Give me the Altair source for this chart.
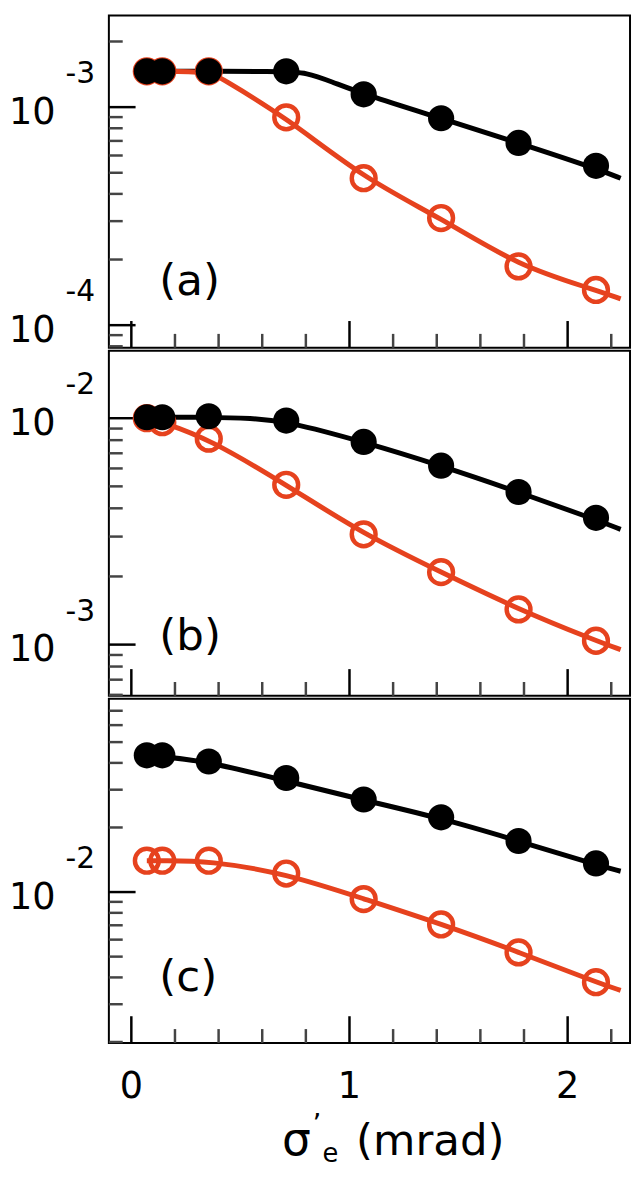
import altair as alt
import pandas as pd

RED = "#E6421E"
FONT = "DejaVu Sans"

# x positions of the measurements (mrad)
x_pts = [0.071, 0.142, 0.355, 0.71, 1.065, 1.42, 1.775, 2.13]

black_a = [1.46e-3, 1.46e-3, 1.46e-3, 1.46e-3, 1.145e-3, 8.89e-4, 6.85e-4, 5.38e-4]
red_a = [1.46e-3, 1.46e-3, 1.46e-3, 8.98e-4, 4.72e-4, 3.10e-4, 1.86e-4, 1.45e-4]
black_b = [1.01e-2, 1.01e-2, 1.02e-2, 9.76e-3, 7.86e-3, 6.17e-3, 4.72e-3, 3.63e-3]
red_b = [1.0e-2, 9.6e-3, 8.12e-3, 5.08e-3, 3.07e-3, 2.09e-3, 1.43e-3, 1.04e-3]
black_c = [4.34e-2, 4.34e-2, 4.06e-2, 3.40e-2, 2.70e-2, 2.23e-2, 1.73e-2, 1.36e-2]
red_c = [1.40e-2, 1.40e-2, 1.40e-2, 1.22e-2, 9.27e-3, 7.06e-3, 5.23e-3, 3.80e-3]

# fitted curves
fit_x = [0.071, 0.142, 0.355, 0.71, 1.065, 1.42, 1.775, 2.13, 2.243]
fit_black_a_x = [0.071, 0.71, 0.80, 0.914, 1.065, 1.42, 1.775, 2.13, 2.243]
fit_black_a = [1.46e-3, 1.46e-3, 1.44e-3, 1.315e-3, 1.145e-3, 8.89e-4, 6.85e-4, 5.23e-4, 4.72e-4]
fit_red_a_x = [0.071, 0.355, 0.415, 0.71, 1.065, 1.42, 1.775, 2.13, 2.243]
fit_red_a = [1.46e-3, 1.46e-3, 1.35e-3, 8.98e-4, 4.72e-4, 3.10e-4, 1.86e-4, 1.45e-4, 1.32e-4]
fit_black_b_x = [0.071, 0.355, 0.55, 0.71, 1.065, 1.42, 1.775, 2.13, 2.243]
fit_black_b = [1.01e-2, 1.01e-2, 1.0e-2, 9.7e-3, 7.86e-3, 6.17e-3, 4.72e-3, 3.56e-3, 3.23e-3]
fit_red_b = [1.0e-2, 9.6e-3, 8.12e-3, 5.08e-3, 3.07e-3, 2.09e-3, 1.43e-3, 1.04e-3, 9.5e-4]
fit_black_c = [4.34e-2, 4.28e-2, 4.06e-2, 3.29e-2, 2.68e-2, 2.21e-2, 1.73e-2, 1.34e-2, 1.25e-2]
fit_red_c = [1.40e-2, 1.40e-2, 1.40e-2, 1.22e-2, 9.3e-3, 7.1e-3, 5.25e-3, 3.8e-3, 3.48e-3]

# axes
X_DOMAIN = [-0.103, 2.286]
x_major = [0, 1, 2]
x_minor = [0.2, 0.4, 0.6, 0.8, 1.2, 1.4, 1.6, 1.8, 2.2]
x_labels = ["0", "1", "2"]
W = 527

panels = [
    dict(name="(a)", H=336, dom=[7.88e-5, 2.633e-3], dec=[1e-4, 1e-3], exps=["-4", "-3"],
         black=black_a, red=red_a, fbx=fit_black_a_x, fb=fit_black_a, frx=fit_red_a_x, fr=fit_red_a, lab_y=270),
    dict(name="(b)", H=349, dom=[5.94e-4, 1.987e-2], dec=[1e-3, 1e-2], exps=["-3", "-2"],
         black=black_b, red=red_b, fbx=fit_black_b_x, fb=fit_black_b, frx=fit_x, fr=fit_red_b, lab_y=290),
    dict(name="(c)", H=348, dom=[1.98e-3, 7.96e-2], dec=[1e-2], exps=["-2"],
         black=black_c, red=red_c, fbx=fit_x, fb=fit_black_c, frx=fit_x, fr=fit_red_c, lab_y=282),
]


def log_ticks(lo, hi):
    major, minor = [], []
    for e in range(-6, 0):
        for m in range(1, 10):
            v = m * 10.0 ** e
            if lo * 1.006 < v < hi / 1.006:
                (major if m == 1 else minor).append(v)
    return major, minor


def panel(p, last):
    H = p["H"]
    xs = alt.X("x:Q", scale=alt.Scale(domain=X_DOMAIN, nice=False, zero=False), axis=None)
    ys = alt.Y("v:Q", scale=alt.Scale(type="log", domain=p["dom"], nice=False), axis=None)
    major, minor = log_ticks(*p["dom"])
    layers = []
    layers.append(alt.Chart(pd.DataFrame({"v": major})).mark_rule(color="black", strokeWidth=2.5)
                  .encode(y=ys, x=alt.value(0), x2=alt.value(27)))
    layers.append(alt.Chart(pd.DataFrame({"v": minor})).mark_rule(color="#444444", strokeWidth=2.5)
                  .encode(y=ys, x=alt.value(0), x2=alt.value(14)))
    layers.append(alt.Chart(pd.DataFrame({"x": x_major})).mark_rule(color="black", strokeWidth=2.5)
                  .encode(x=xs, y=alt.value(H), y2=alt.value(H - 27)))
    layers.append(alt.Chart(pd.DataFrame({"x": x_minor})).mark_rule(color="#444444", strokeWidth=2.5)
                  .encode(x=xs, y=alt.value(H), y2=alt.value(H - 14)))
    layers.append(alt.Chart(pd.DataFrame({"x": p["fbx"], "v": p["fb"]}))
                  .mark_line(color="black", strokeWidth=5, interpolate="basis")
                  .encode(x=xs, y=ys))
    layers.append(alt.Chart(pd.DataFrame({"x": p["frx"], "v": p["fr"]}))
                  .mark_line(color=RED, strokeWidth=5, interpolate="basis")
                  .encode(x=xs, y=ys))
    layers.append(alt.Chart(pd.DataFrame({"x": x_pts, "v": p["red"]}))
                  .mark_point(shape="circle", filled=False, color=RED, strokeWidth=4.5, size=580, opacity=1)
                  .encode(x=xs, y=ys))
    layers.append(alt.Chart(pd.DataFrame({"x": x_pts, "v": p["black"]}))
                  .mark_circle(color="black", size=700, opacity=1)
                  .encode(x=xs, y=ys))
    dec = pd.DataFrame({"v": p["dec"], "e": p["exps"]})
    layers.append(alt.Chart(dec).mark_text(text="10", align="left", baseline="middle", fontSize=37,
                                           dy=6, font=FONT, color="black")
                  .encode(y=ys, x=alt.value(-101)))
    layers.append(alt.Chart(dec).mark_text(align="right", baseline="middle", fontSize=30,
                                           dy=-33, font=FONT, color="black")
                  .encode(y=ys, x=alt.value(-14), text="e:N"))
    layers.append(alt.Chart(pd.DataFrame({"t": [p["name"]]}))
                  .mark_text(align="left", baseline="middle", fontSize=44, font=FONT, color="black")
                  .encode(x=alt.value(51), y=alt.value(p["lab_y"]), text="t:N"))
    if last:
        layers.append(alt.Chart(pd.DataFrame({"x": x_major, "t": x_labels}))
                      .mark_text(align="center", baseline="middle", fontSize=37, font=FONT, color="black")
                      .encode(x=xs, y=alt.value(H + 45), text="t:N"))
        title_parts = [
            ("σ", 175, 461, 46),
            ("’", 206, 440, 28),
            ("e", 216, 468, 26),
            ("(mrad)", 250, 461, 44),
        ]
        for t, tx, ty, fs in title_parts:
            layers.append(alt.Chart(pd.DataFrame({"t": [t]}))
                          .mark_text(align="left", baseline="alphabetic", fontSize=fs, font=FONT, color="black")
                          .encode(x=alt.value(tx), y=alt.value(ty), text="t:N"))
    return alt.layer(*layers).properties(
        width=W, height=H,
        view=alt.ViewBackground(stroke="black", strokeWidth=2, fill="white"))


charts = [panel(p, i == len(panels) - 1) for i, p in enumerate(panels)]
chart = (alt.vconcat(*charts, spacing=-2)
         .properties(padding=0, background="white")
         .configure_view(stroke="black", strokeWidth=2))

chart.save("out.html", embed_options={"renderer": "svg", "actions": False})
